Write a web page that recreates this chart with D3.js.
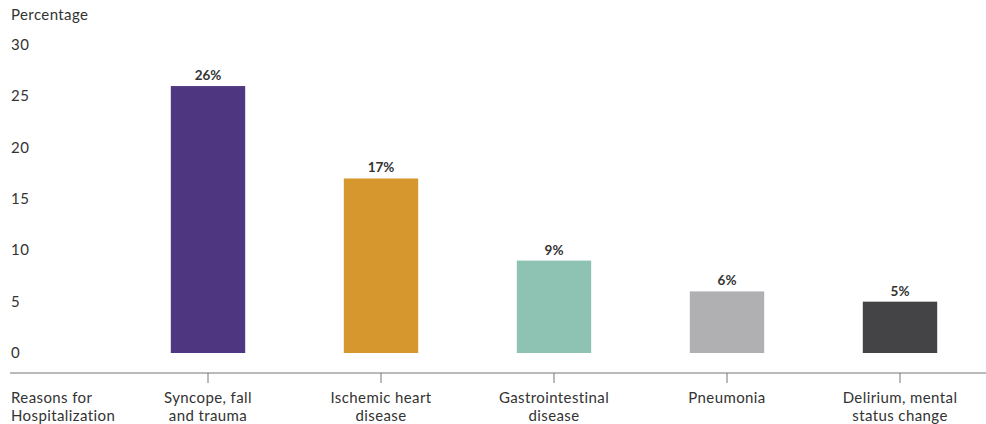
<!DOCTYPE html>
<html>
<head>
<meta charset="utf-8">
<script src="https://cdn.jsdelivr.net/npm/d3@7"></script>
<style>
  body { margin: 0; background: #fff; }
  text { font-family: Lato, "Open Sans", sans-serif; fill: #333; }
</style>
</head>
<body>
<div id="chart"></div>
<script>
// data
const categories = ["Syncope, fall|and trauma", "Ischemic heart|disease", "Gastrointestinal|disease", "Pneumonia", "Delirium, mental|status change"];
const values = [26, 17, 9, 6, 5];
const colors = ["#4f3680", "#d6982e", "#8ec3b4", "#b0afb2", "#444446"];
const yTicks = [0, 5, 10, 15, 20, 25, 30];

const width = 986, height = 424;

const svg = d3.select("#chart")
    .append("svg")
    .attr("width", width)
    .attr("height", height);

const x = d3.scaleBand()
    .domain(categories)
    .range([121.5, 986.5])
    .paddingInner(0.57)
    .paddingOuter(0.285);

const y = d3.scaleLinear()
    .domain([0, 30])
    .range([353, 45]);

// y tick labels (no axis line)
svg.selectAll(".ytick")
    .data(yTicks)
    .enter()
    .append("text")
    .attr("class", "ytick")
    .attr("x", 11)
    .attr("y", d => y(d) + 5)
    .style("font-size", "15px")
    .style("letter-spacing", "0.5px")
    .text(d => d);

svg.append("text")
    .attr("x", 11)
    .attr("y", 20)
    .style("font-size", "15px")
    .style("letter-spacing", "0.4px")
    .text("Percentage");

// bars
svg.selectAll(".bar")
    .data(values)
    .enter()
    .append("rect")
    .attr("class", "bar")
    .attr("x", (d, i) => x(categories[i]))
    .attr("width", x.bandwidth())
    .attr("y", d => y(d))
    .attr("height", d => y(0) - y(d))
    .attr("fill", (d, i) => colors[i]);

svg.selectAll(".val")
    .data(values)
    .enter()
    .append("text")
    .attr("class", "val")
    .attr("x", (d, i) => x(categories[i]) + x.bandwidth() / 2)
    .attr("y", d => y(d) - 6)
    .attr("text-anchor", "middle")
    .style("font-size", "13.5px")
    .style("font-weight", "bold")
    .text(d => d + "%");

// x axis
const xAxis = svg.append("g")
    .attr("transform", "translate(0,373)")
    .call(d3.axisBottom(x).tickSize(10).tickFormat(""));
xAxis.select(".domain").remove();
xAxis.selectAll(".tick line").attr("stroke", "#777");

svg.append("line")
    .attr("x1", 10)
    .attr("x2", 986)
    .attr("y1", 373)
    .attr("y2", 373)
    .attr("stroke", "#777")
    .attr("stroke-width", 1.2);

const labels = svg.selectAll(".xlab")
    .data(categories)
    .enter()
    .append("text")
    .attr("class", "xlab")
    .attr("text-anchor", "middle")
    .style("font-size", "15px")
    .style("letter-spacing", "0.4px")
    .attr("transform", d => "translate(" + (x(d) + x.bandwidth() / 2) + ",0)");

labels.selectAll("tspan")
    .data(d => d.split("|"))
    .enter()
    .append("tspan")
    .attr("x", 0)
    .attr("y", (d, i) => 403 + i * 18)
    .text(d => d);

const axisTitle = svg.append("text")
    .style("font-size", "15px")
    .style("letter-spacing", "0.4px");
axisTitle.append("tspan").attr("x", 11).attr("y", 403).text("Reasons for");
axisTitle.append("tspan").attr("x", 11).attr("y", 421).text("Hospitalization");
</script>
</body>
</html>
